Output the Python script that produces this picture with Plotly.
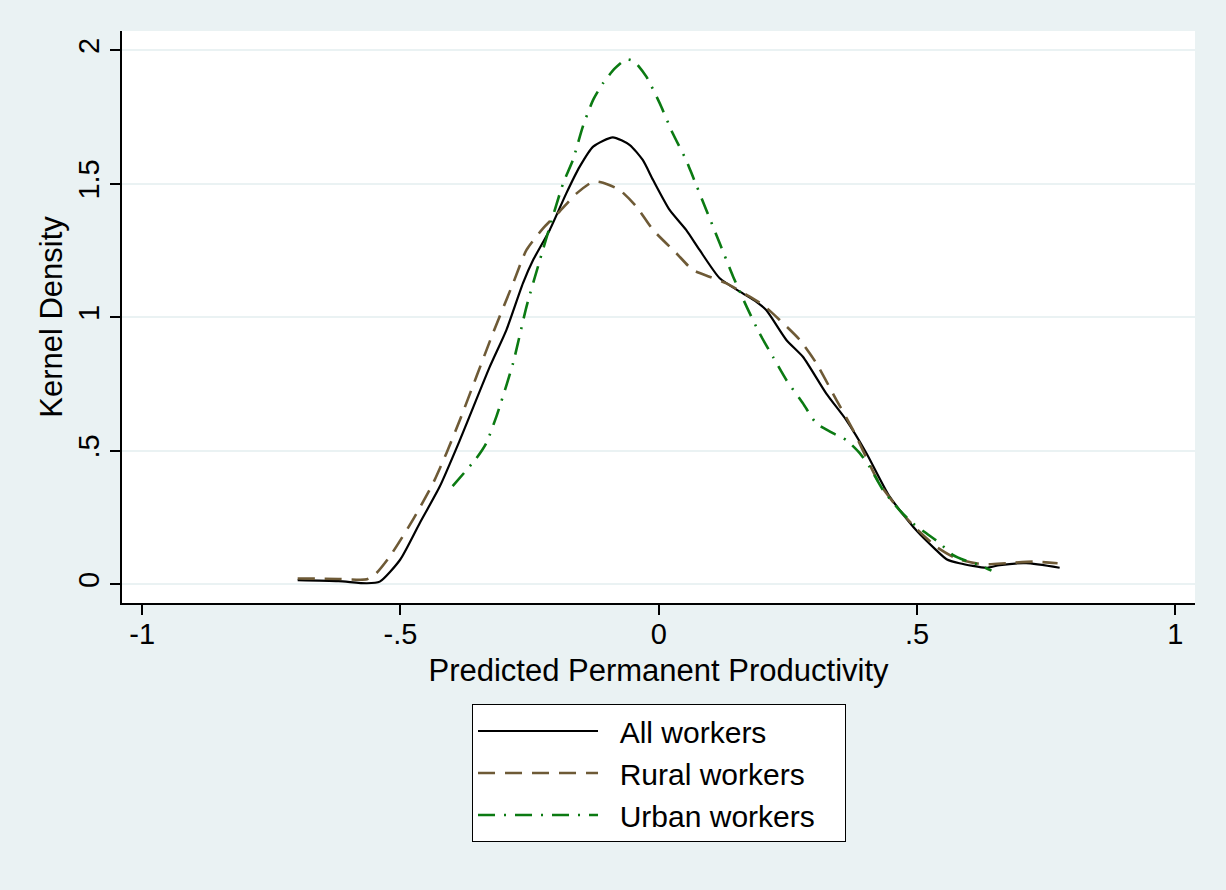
import plotly.graph_objects as go

# ---- data ----
all_x = [-0.699, -0.62, -0.565, -0.540, -0.501, -0.463, -0.424, -0.385, -0.327, -0.295,
         -0.263, -0.243, -0.211, -0.179, -0.153, -0.127, -0.089, -0.056, -0.031, -0.011,
         0.021, 0.053, 0.079, 0.118, 0.157, 0.189, 0.208, 0.247, 0.279, 0.324,
         0.363, 0.402, 0.447, 0.498, 0.537, 0.557, 0.582, 0.634, 0.660, 0.711, 0.776]
all_y = [0.016, 0.012, 0.004, 0.010, 0.091, 0.228, 0.366, 0.540, 0.815, 0.952,
         1.127, 1.215, 1.327, 1.464, 1.564, 1.639, 1.674, 1.645, 1.589, 1.514,
         1.402, 1.327, 1.252, 1.146, 1.096, 1.058, 1.027, 0.915, 0.852, 0.715,
         0.615, 0.491, 0.328, 0.203, 0.128, 0.094, 0.079, 0.062, 0.072, 0.079, 0.062]

rural_x = [-0.699, -0.62, -0.565, -0.547, -0.521, -0.476, -0.437, -0.411, -0.385, -0.321,
           -0.282, -0.256, -0.224, -0.192, -0.159, -0.127, -0.108, -0.076, -0.043, -0.011,
           0.034, 0.066, 0.098, 0.131, 0.170, 0.202, 0.234, 0.273, 0.305, 0.344,
           0.376, 0.427, 0.466, 0.498, 0.537, 0.576, 0.627, 0.673, 0.724, 0.772]
rural_y = [0.022, 0.020, 0.019, 0.041, 0.103, 0.241, 0.378, 0.491, 0.615, 0.940,
           1.127, 1.252, 1.333, 1.396, 1.464, 1.508, 1.504, 1.477, 1.414, 1.327,
           1.240, 1.177, 1.152, 1.127, 1.084, 1.046, 0.990, 0.915, 0.828, 0.690,
           0.578, 0.378, 0.278, 0.210, 0.141, 0.097, 0.075, 0.079, 0.085, 0.079]

urban_x = [-0.399, -0.353, -0.334, -0.314, -0.308, -0.282, -0.256, -0.230, -0.211, -0.185,
           -0.166, -0.147, -0.127, -0.108, -0.085, -0.063, -0.047, -0.024, 0.002, 0.027,
           0.053, 0.066, 0.092, 0.118, 0.144, 0.170, 0.195, 0.221, 0.247, 0.279,
           0.305, 0.337, 0.363, 0.389, 0.408, 0.434, 0.466, 0.492, 0.518, 0.544,
           0.569, 0.595, 0.621, 0.644]
urban_y = [0.368, 0.472, 0.528, 0.630, 0.665, 0.828, 1.040, 1.215, 1.339, 1.502,
           1.590, 1.714, 1.814, 1.876, 1.932, 1.966, 1.957, 1.901, 1.801, 1.689,
           1.589, 1.527, 1.402, 1.277, 1.152, 1.040, 0.940, 0.852, 0.765, 0.678,
           0.603, 0.566, 0.540, 0.491, 0.440, 0.353, 0.278, 0.228, 0.191, 0.154,
           0.110, 0.088, 0.072, 0.051]

series_names = ["All workers", "Rural workers", "Urban workers"]
x_ticks = [-1, -0.5, 0, 0.5, 1]
x_tick_labels = ["-1", "-.5", "0", ".5", "1"]
y_ticks = [0, 0.5, 1, 1.5, 2]
y_tick_labels = ["0", ".5", "1", "1.5", "2"]

BG = "#EAF2F3"
FONT = "Liberation Sans, Arial, Helvetica, sans-serif"
LEAD = "\u00a0" * 2   # gap between legend line sample and label
PAD = "\u00a0" * 3    # right padding inside the legend box


def legend_name(s):
    return LEAD + s + PAD


fig = go.Figure()
fig.add_trace(go.Scatter(x=all_x, y=all_y, mode="lines", name=legend_name(series_names[0]),
                         line=dict(color="#000000", width=2.2, shape="spline", smoothing=0.6)))
fig.add_trace(go.Scatter(x=rural_x, y=rural_y, mode="lines", name=legend_name(series_names[1]),
                         line=dict(color="#6E5A36", width=2.6, shape="spline", smoothing=0.6,
                                   dash="17px,10px")))
fig.add_trace(go.Scatter(x=urban_x, y=urban_y, mode="lines", name=legend_name(series_names[2]),
                         line=dict(color="#0B7A12", width=2.6, shape="spline", smoothing=0.6,
                                   dash="17px,9px,2px,9px")))

fig.update_layout(
    width=1226, height=890,
    margin=dict(l=122, r=31, t=31, b=287),
    paper_bgcolor=BG, plot_bgcolor="#FFFFFF",
    font=dict(family=FONT, size=30, color="#000000"),
    showlegend=True,
    legend=dict(x=0.3262, y=-0.1766, xanchor="left", yanchor="top",
                bgcolor="#FFFFFF", bordercolor="#000000", borderwidth=1,
                font=dict(family=FONT, size=30, color="#000000"),
                itemwidth=120, tracegroupgap=0),
)
fig.update_xaxes(
    range=[-1.039, 1.038], tickvals=x_ticks, ticktext=x_tick_labels,
    showgrid=False, zeroline=False, showline=True, linecolor="#000000", linewidth=1.5,
    ticks="outside", ticklen=10, tickwidth=1.5, tickcolor="#000000",
    tickfont=dict(size=29), ticklabelstandoff=-6,
    title=dict(text="Predicted Permanent Productivity", font=dict(size=31), standoff=11),
)
fig.update_yaxes(
    range=[-0.070, 2.072], tickvals=y_ticks, ticktext=y_tick_labels, tickangle=-90,
    showgrid=True, gridcolor=BG, gridwidth=2, zeroline=False,
    showline=True, linecolor="#000000", linewidth=1.5,
    ticks="outside", ticklen=10, tickwidth=1.5, tickcolor="#000000",
    tickfont=dict(size=29),
    title=dict(text="Kernel Density", font=dict(size=31), standoff=1),
)

fig.write_html(
    "out.html",
    config={"displayModeBar": False},
    post_script=(
        "document.body.style.margin='0';"
        "document.body.style.background='" + BG + "';"
        "document.documentElement.style.overflow='hidden';"
    ),
)
